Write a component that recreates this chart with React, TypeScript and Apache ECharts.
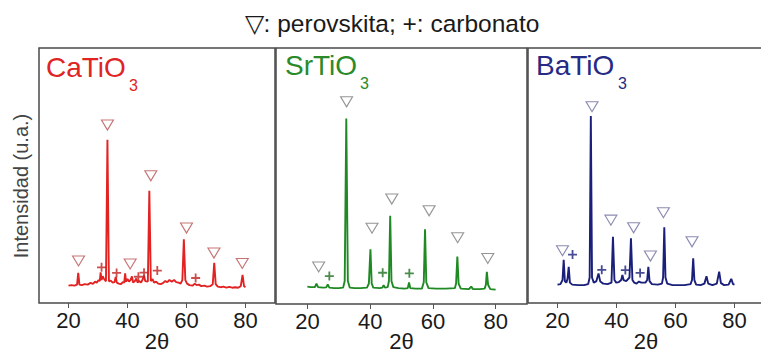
import React, { useEffect, useRef } from "react";
import * as echarts from "echarts";

const FONT = "'Liberation Sans', Arial, Helvetica, sans-serif";

const tickValues = [20, 40, 60, 80];
const panelNames = ["CaTiO", "SrTiO", "BaTiO"];
const legendTitle = "▽: perovskita; +: carbonato";
const yAxisTitle = "Intensidad (u.a.)";
const xAxisTitle = "2θ";

const caPattern = [
  [20, 6.8], [21, 7.0], [22, 6.8], [22.9, 7.2], [23.3, 11.8], [23.7, 7.2], [24.5, 7.0], [25.5, 7.4],
  [26.5, 7.2], [27.5, 7.9], [28.3, 7.5], [29.0, 8.4], [29.6, 8.0], [30.2, 9.0], [30.6, 8.6], [30.9, 12.0],
  [31.2, 9.0], [31.6, 10.5], [32.0, 9.5], [32.7, 8.5], [33.2, 64], [33.7, 8.5], [34.3, 8.8], [35.0, 8.0],
  [35.6, 8.2], [36.0, 10.2], [36.4, 8.0], [37.0, 7.6], [37.8, 7.4], [38.4, 8.2], [38.9, 8.0], [39.2, 11.6],
  [39.5, 8.4], [40.0, 9.4], [40.5, 8.4], [41.0, 9.0], [41.5, 10.4], [41.9, 8.0], [42.5, 8.6], [43.0, 9.6],
  [43.4, 8.0], [44.0, 8.6], [44.6, 8.0], [45.2, 9.4], [45.6, 10.8], [46.0, 8.6], [46.9, 8.4], [47.4, 44],
  [47.9, 8.6], [48.5, 9.4], [49.0, 8.0], [49.7, 8.4], [50.4, 7.6], [51.2, 7.4], [52, 7.8], [52.8, 8.6],
  [53.5, 8.2], [54.2, 9.0], [55, 8.4], [55.8, 9.0], [56.5, 8.2], [57.3, 8.0], [58.0, 7.6], [58.6, 9.0],
  [59.1, 25], [59.6, 9.0], [60.2, 7.6], [61, 7.0], [62, 6.8], [62.8, 7.6], [63.4, 7.0], [64.2, 7.2],
  [65, 6.6], [66, 6.8], [67, 6.4], [68, 6.6], [68.9, 7.4], [69.4, 15.8], [69.9, 7.4], [70.6, 6.4],
  [71.5, 6.2], [72.5, 6.4], [73.5, 6.0], [74.5, 6.3], [75.5, 6.0], [76.5, 6.2], [77.5, 6.0], [78.4, 6.6],
  [79.0, 11], [79.5, 6.6], [80, 6.2],
];
const caPerov = [[23.4, 16.5], [33.2, 69.8], [40.9, 15.3], [47.9, 49.9], [60.0, 29.4], [69.3, 19.6], [78.9, 15.5]];
const caCarb = [[31.2, 14.0], [36.3, 11.8], [43.7, 10.3], [45.6, 11.9], [50.1, 12.7], [63.1, 9.8]];

const srPattern = [
  [20, 6.8], [21, 6.6], [22.4, 6.6], [22.9, 8.0], [23.4, 6.6], [25, 6.4], [26.0, 6.5], [26.5, 7.6],
  [27.0, 6.4], [28.5, 6.2], [30, 6.2], [31.4, 6.4], [31.9, 9], [32.4, 72.5], [32.9, 9], [33.5, 6.4],
  [35, 6.2], [37, 6.2], [39.0, 6.4], [39.6, 8], [40.1, 21.4], [40.5, 8], [41.0, 6.4], [43, 6.2],
  [43.9, 6.4], [44.3, 7.4], [44.7, 6.4], [45.6, 6.6], [46.0, 9], [46.4, 34.5], [46.8, 9], [47.4, 6.6],
  [49, 6.2], [51, 6.0], [52.0, 6.2], [52.4, 8.4], [52.8, 6.2], [54.5, 6.0], [56.5, 6.0], [57.1, 8.5],
  [57.5, 29.2], [57.9, 8.5], [58.6, 6.2], [61, 6.0], [64, 6.0], [67.0, 6.2], [67.4, 8], [67.8, 18.5],
  [68.2, 8], [68.9, 6.0], [71.5, 5.8], [72.2, 6.8], [72.8, 5.8], [75, 5.8], [76.5, 6.0], [76.9, 7.5],
  [77.2, 12.6], [77.6, 7.5], [78.3, 5.8], [80, 5.6],
];
const srPerov = [[23.6, 14.5], [32.5, 79], [40.6, 29.6], [46.9, 41.0], [58.8, 36.4], [67.9, 25.9], [77.5, 17.8]];
const srCarb = [[27.0, 10.9], [44.0, 12.2], [52.5, 12.0]];

const baPattern = [
  [20, 7.2], [21.0, 7.4], [21.7, 9], [22.1, 16.9], [22.5, 8.5], [23.0, 8.0], [23.4, 9.5], [23.8, 14.2],
  [24.2, 8.0], [25, 7.2], [27, 7.0], [29, 7.0], [30.4, 7.4], [30.9, 10], [31.3, 73.3], [31.7, 10],
  [32.3, 8.0], [33.2, 8.6], [33.9, 11.6], [34.5, 8.4], [35.5, 7.6], [37, 7.4], [38.3, 8], [38.8, 26],
  [39.3, 9], [39.9, 8.0], [40.8, 8.2], [41.6, 9.0], [42.0, 11], [42.4, 9.0], [43.3, 8.6], [44.4, 10],
  [44.9, 25.4], [45.4, 9], [46.0, 8.0], [46.8, 7.6], [47.6, 8.4], [48.4, 8.0], [49.8, 8.0], [50.4, 9],
  [50.8, 14.2], [51.2, 8.6], [52, 7.4], [54, 7.2], [55.4, 7.6], [55.8, 10], [56.2, 29.7], [56.6, 10],
  [57.2, 7.6], [59, 7.0], [61, 7.0], [63, 7.0], [65.1, 7.4], [65.6, 9], [66.0, 17.5], [66.4, 9],
  [67.0, 7.2], [68.5, 7.0], [69.8, 7.6], [70.5, 10.5], [71.1, 7.6], [72.5, 7.0], [74.0, 7.6], [74.8, 12.3],
  [75.4, 7.8], [76.5, 7.0], [78.0, 7.2], [78.9, 9.5], [79.5, 7.4], [80, 7.2],
];
const baPerov = [[21.7, 20.5], [31.7, 77], [38.1, 32.5], [45.8, 29.5], [51.5, 18.4], [55.9, 35.4], [65.6, 24]];
const baCarb = [[25.1, 19], [35.0, 13], [43.0, 12.9], [48.0, 11.8]];

const lineColors = ["#e32222", "#1f8a24", "#1a1f7a"];
const labelColors = ["#e02424", "#2a8a2a", "#252a85"];
const triColors = ["#b85050", "#7a7a7a", "#6e6e9e"];
const plusColors = ["#c02020", "#1e6e1e", "#1a1f7a"];

const TRI = "path://M0,0L12,0L6,10Z";
const PLUS = "path://M4,0H6V10H4Z M0,4H10V6H0Z";

export default function App() {
  const ref = useRef<HTMLDivElement>(null);
  useEffect(() => {
    document.body.style.margin = "0";
    const chart = echarts.init(ref.current!, null, { renderer: "svg" });
    const patterns = [caPattern, srPattern, baPattern];
    const perovs = [caPerov, srPerov, baPerov];
    const carbs = [caCarb, srCarb, baCarb];
    const gridBoxes = [
      { left: 39, top: 48, width: 236, height: 255 },
      { left: 276, top: 48, width: 251, height: 256 },
      { left: 528, top: 48, width: 236, height: 255 },
    ];
    const grids = gridBoxes.map((g) => ({
      ...g, show: true, borderColor: "#4a4a4a", borderWidth: 1.5, backgroundColor: "transparent",
      containLabel: false, outerBoundsMode: "none",
    }));

    const series: any[] = [];
    for (let i = 0; i < 3; i++) {
      series.push({
        type: "line", xAxisIndex: i, yAxisIndex: i, data: patterns[i], symbol: "none",
        lineStyle: { color: lineColors[i], width: 1.9 }, z: 2,
      });
      series.push({
        type: "scatter", xAxisIndex: i, yAxisIndex: i, data: perovs[i], symbol: TRI, symbolSize: [12, 10],
        itemStyle: { color: "rgba(0,0,0,0)", borderColor: triColors[i], borderWidth: 1.1 }, z: 3,
      });
      series.push({
        type: "scatter", xAxisIndex: i, yAxisIndex: i, data: carbs[i], symbol: PLUS, symbolSize: 9,
        itemStyle: { color: plusColors[i] }, z: 3,
      });
    }

    const labelPos = [
      { x: 46, y: 67, sx: 129, sy: 85 },
      { x: 285, y: 65, sx: 360, sy: 83 },
      { x: 536, y: 65, sx: 618, sy: 83 },
    ];
    const graphics: any[] = [
      {
        type: "text", x: 392, y: 23,
        style: { text: legendTitle, fontSize: 24.5, fontFamily: FONT, fill: "#1a1a1a", align: "center", verticalAlign: "middle" },
      },
      {
        type: "text", x: 21, y: 186, rotation: Math.PI / 2,
        style: { text: yAxisTitle, fontSize: 20, fontFamily: FONT, fill: "#444", align: "center", verticalAlign: "middle" },
      },
    ];
    labelPos.forEach((p, i) => {
      graphics.push({
        type: "text", x: p.x, y: p.y,
        style: { text: panelNames[i], fontSize: 28, fontFamily: FONT, fill: labelColors[i], align: "left", verticalAlign: "middle" },
      });
      graphics.push({
        type: "text", x: p.sx, y: p.sy,
        style: { text: "3", fontSize: 16, fontFamily: FONT, fill: labelColors[i], align: "left", verticalAlign: "middle" },
      });
    });
    gridBoxes.forEach((g) => {
      graphics.push({
        type: "text", x: g.left + g.width / 2, y: 341,
        style: { text: xAxisTitle, fontSize: 22, fontFamily: FONT, fill: "#1a1a1a", align: "center", verticalAlign: "middle" },
      });
    });

    chart.setOption({
      animation: false,
      grid: grids,
      xAxis: [0, 1, 2].map((i) => ({
        gridIndex: i, type: "value", min: 10, max: 90,
        axisLine: { show: false },
        axisTick: { show: true, customValues: tickValues, length: 5, inside: false, lineStyle: { color: "#555", width: 1 } },
        axisLabel: { customValues: tickValues, fontSize: 22, color: "#1a1a1a", margin: 6, fontFamily: FONT },
        splitLine: { show: false },
      })),
      yAxis: [0, 1, 2].map((i) => ({ gridIndex: i, type: "value", min: 0, max: 100, show: false })),
      series,
      graphic: graphics,
    });
    return () => chart.dispose();
  }, []);
  return <div ref={ref} style={{ width: 761, height: 353 }} />;
}
